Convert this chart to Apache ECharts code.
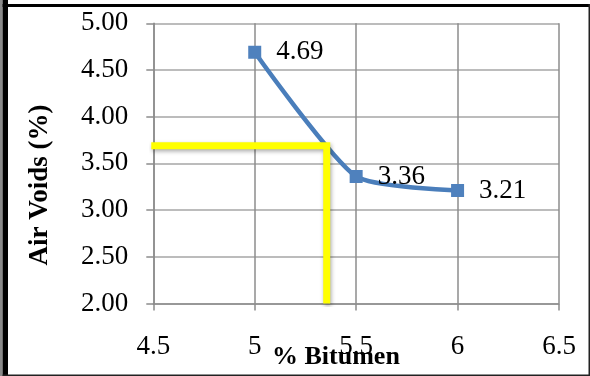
<!DOCTYPE html>
<html>
<head>
<meta charset="utf-8">
<script src="https://cdn.jsdelivr.net/npm/echarts@6/dist/echarts.min.js"></script>
<style>
  html, body { margin: 0; padding: 0; background: #fff; }
  #chart { width: 590px; height: 376px; }
</style>
</head>
<body>
<div id="chart"></div>
<script>
// Bitumen content vs. air voids
const bitumenPct = [5, 5.5, 6];
const airVoids = [4.69, 3.36, 3.21];

// Guide marking the design air-void level and matching bitumen content
const guideAirVoids = 3.69;
const guideBitumen = 5.355;
const guideStartX = 4.49;

const xTicks = { min: 4.5, max: 6.5, step: 0.5 };
const yTicks = { min: 2.0, max: 5.0, step: 0.5 };

const serif = "'Liberation Serif', 'Times New Roman', serif";

const chart = echarts.init(document.getElementById('chart'), null, { renderer: 'canvas' });

const curveData = bitumenPct.map((x, i) => [x, airVoids[i]]);
const guideData = [
  [guideStartX, guideAirVoids],
  [guideBitumen, guideAirVoids],
  [guideBitumen, yTicks.min]
];

chart.setOption({
  animation: false,
  backgroundColor: '#ffffff',
  grid: { left: 153.3, right: 31, top: 23.3, bottom: 72.5, containLabel: false },
  xAxis: {
    type: 'value',
    min: xTicks.min, max: xTicks.max, interval: xTicks.step,
    axisLine: { show: true, lineStyle: { color: '#8c8c8c', width: 1.5 } },
    axisTick: { show: true, inside: false, length: 7, lineStyle: { color: '#8c8c8c', width: 1.5 } },
    axisLabel: { color: '#000', fontFamily: serif, fontSize: 27, margin: 30 },
    splitLine: { show: true, lineStyle: { color: '#8c8c8c', width: 1.5 } }
  },
  yAxis: {
    type: 'value',
    min: yTicks.min, max: yTicks.max, interval: yTicks.step,
    axisLine: { show: true, lineStyle: { color: '#8c8c8c', width: 1.5 } },
    axisTick: { show: true, inside: false, length: 7, lineStyle: { color: '#8c8c8c', width: 1.5 } },
    axisLabel: { color: '#000', fontFamily: serif, fontSize: 27, margin: 25,
      formatter: v => v.toFixed(2) },
    splitLine: { show: true, lineStyle: { color: '#a6a6a6', width: 1.5 } }
  },
  series: [
    {
      type: 'line',
      data: curveData,
      smooth: 0.2,
      symbol: 'rect',
      symbolSize: 13,
      z: 3,
      lineStyle: { color: '#4a7ebb', width: 4.5 },
      itemStyle: { color: '#4f81bd' },
      label: {
        show: true, position: 'right', distance: 15,
        color: '#000', fontFamily: serif, fontSize: 27,
        formatter: p => p.value[1].toFixed(2)
      }
    },
    {
      type: 'line',
      data: guideData,
      symbol: 'none',
      z: 5,
      lineStyle: {
        color: '#ffff00', width: 7, join: 'miter', cap: 'butt',
        shadowColor: 'rgba(0,0,0,0.35)', shadowBlur: 4, shadowOffsetX: 1, shadowOffsetY: 2
      },
      silent: true
    }
  ],
  graphic: [
    // outer frame
    { type: 'rect', shape: { x: 0, y: 0, width: 2.6, height: 376 }, style: { fill: '#8a8a8a' } },
    { type: 'rect', shape: { x: 2.6, y: 0, width: 5.4, height: 376 }, style: { fill: '#000' } },
    { type: 'rect', shape: { x: 2.6, y: 4, width: 588, height: 3 }, style: { fill: '#000' } },
    { type: 'rect', shape: { x: 588.5, y: 4, width: 1.5, height: 372 }, style: { fill: '#222' } },
    { type: 'rect', shape: { x: 2.6, y: 374.5, width: 588, height: 1.5 }, style: { fill: '#222' } },
    // axis titles
    {
      type: 'text', left: 272, top: 344,
      style: { text: '% Bitumen', fill: '#000', font: "bold 26px " + serif }
    },
    {
      type: 'text', x: 40, y: 185, rotation: Math.PI / 2,
      style: { text: 'Air Voids (%)', fill: '#000', font: "bold 27px " + serif,
        textAlign: 'center', textVerticalAlign: 'middle' }
    }
  ]
});
</script>
</body>
</html>
